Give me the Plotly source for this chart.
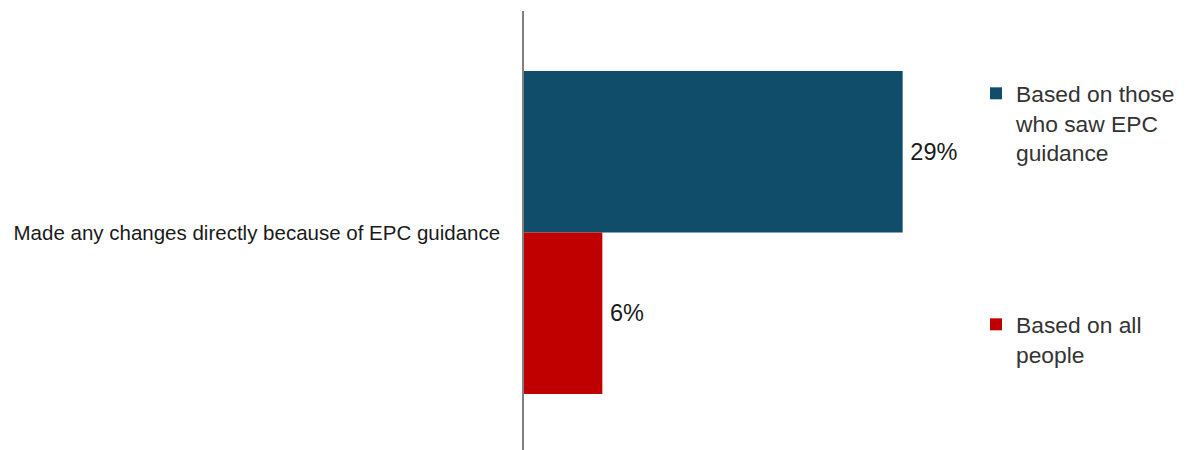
import plotly.graph_objects as go

categories = ["Made any changes directly because of EPC guidance"]
series_names = ["Based on those<br>who saw EPC<br>guidance", "Based on all<br>people"]
saw_guidance = [29]
all_people = [6]
colors = ["#0F4D6B", "#C00000"]

FONT = "Liberation Sans, Arial, sans-serif"
PAD = "\u2009"

fig = go.Figure()
fig.add_trace(go.Bar(
    y=categories, x=saw_guidance, orientation="h", name=series_names[0],
    marker=dict(color=colors[0], line=dict(width=0)),
    text=[f"{PAD}{v}%" for v in saw_guidance], textposition="outside",
    textfont=dict(size=23.5, color="#1a1a1a", family=FONT),
    legend="legend", cliponaxis=False,
))
fig.add_trace(go.Bar(
    y=categories, x=all_people, orientation="h", name=series_names[1],
    marker=dict(color=colors[1], line=dict(width=0)),
    text=[f"{PAD}{v}%" for v in all_people], textposition="outside",
    textfont=dict(size=23.5, color="#1a1a1a", family=FONT),
    legend="legend2", cliponaxis=False,
))

legend_common = dict(
    xref="container", yref="container", xanchor="left", yanchor="top",
    font=dict(size=22.8, color="#333333", family=FONT),
    bgcolor="rgba(0,0,0,0)", valign="top", itemclick=False,
)

fig.update_layout(
    width=1189, height=450,
    margin=dict(l=516, r=216, t=3, b=4, autoexpand=False),
    paper_bgcolor="white", plot_bgcolor="white",
    barmode="group", bargap=0.271, bargroupgap=0,
    font=dict(family=FONT, color="#1a1a1a"),
    xaxis=dict(range=[0, 35], showticklabels=False, showgrid=False,
               zeroline=False, showline=False, fixedrange=True),
    yaxis=dict(autorange="reversed", showgrid=False, zeroline=False,
               showline=True, linecolor="#808080", linewidth=1.5,
               ticks="", ticklabelstandoff=18, automargin=False,
               tickfont=dict(size=20.5, color="#1a1a1a", family=FONT)),
    legend=dict(x=968 / 1189, y=1 - 64 / 450, **legend_common),
    legend2=dict(x=968 / 1189, y=1 - 295 / 450, **legend_common),
    showlegend=True,
)

fig.write_html("out.html")
